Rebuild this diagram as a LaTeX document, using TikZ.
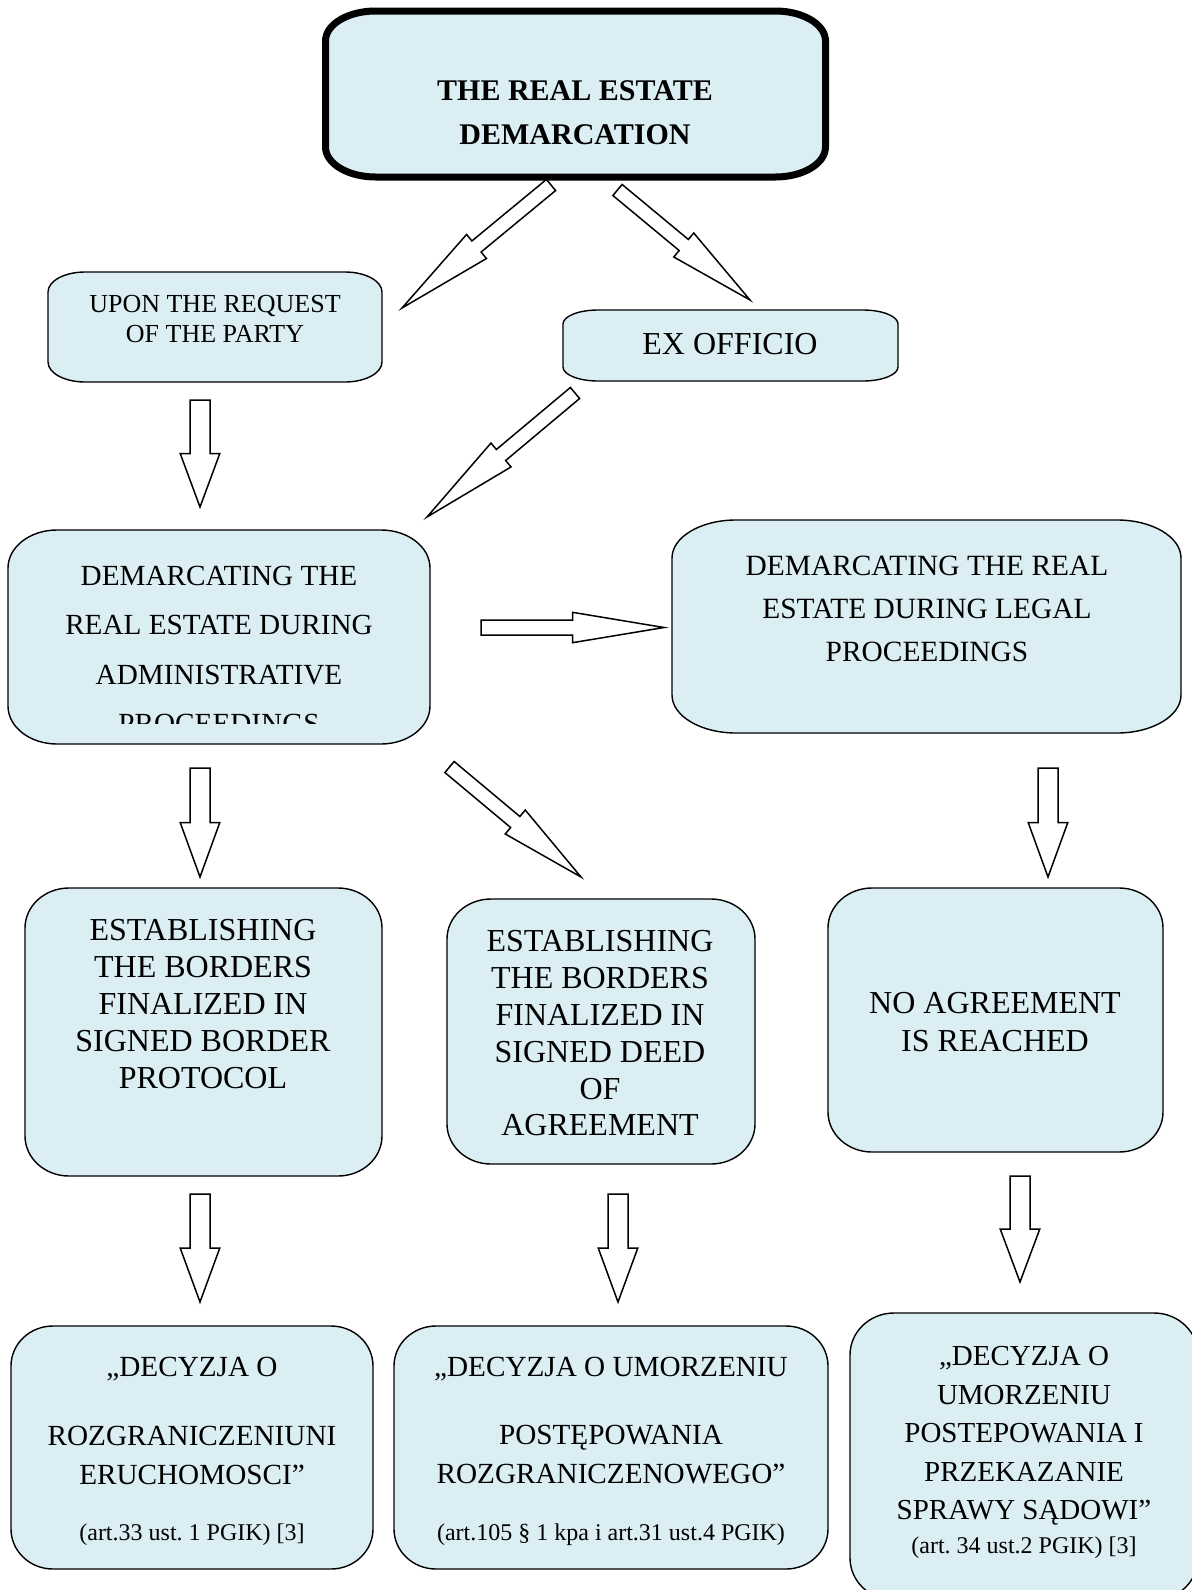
\documentclass[tikz,border=0pt]{standalone}
\usepackage{fontspec}
\setmainfont{Liberation Serif}
\usetikzlibrary{calc}
\definecolor{boxfill}{RGB}{218,238,243}
\frenchspacing
\newcommand\blockarr[4]{%
  \path ($(#1)!0.5!(#2)$) coordinate (bm);
  \draw[barrow] ($(#1)!#3!90:(#2)$) -- ($(bm)!#3!90:(#2)$) -- ($(bm)!#4!90:(#2)$) -- (#2)
    -- ($(bm)!#4!-90:(#2)$) -- ($(bm)!#3!-90:(#2)$) -- ($(#1)!#3!-90:(#2)$) -- cycle;
}
\newcommand\ebox[4][]{%
  \draw[boxline,#1] ($(#2.north west)+(0,-#4)$) arc[start angle=180,end angle=90,x radius=#3,y radius=#4]
    -- ($(#2.north east)+(-#3,0)$) arc[start angle=90,end angle=0,x radius=#3,y radius=#4]
    -- ($(#2.south east)+(0,#4)$) arc[start angle=0,end angle=-90,x radius=#3,y radius=#4]
    -- ($(#2.south west)+(#3,0)$) arc[start angle=270,end angle=180,x radius=#3,y radius=#4] -- cycle;
}
\tikzset{
  box/.style={inner sep=0pt, outer sep=0pt, rectangle},
  boxline/.style={draw=black, line width=0.7pt, fill=boxfill},
  txt/.style={align=center, inner sep=0pt, outer sep=0pt},
  barrow/.style={draw=black, fill=white, line width=0.75pt, line join=miter},
}
\begin{document}
\begin{tikzpicture}[x=0.5pt,y=-0.5pt]
\useasboundingbox (0,0) rectangle (1192,1590);
\fill[white] (0,0) rectangle (1192,1590);
\clip (0,0) rectangle (1192,1590);

% boxes
\node[box, minimum width=250pt, minimum height=83pt] (top) at (575.5,94) {};
\node[box, minimum width=167pt, minimum height=55pt] (upon) at (215,327) {};
\node[box, minimum width=167.5pt, minimum height=35.5pt] (exof) at (730.5,345.5) {};
\node[box, minimum width=211pt, minimum height=107pt] (admin) at (219,637) {};
\node[box, minimum width=254.5pt, minimum height=106.5pt] (legal) at (926.5,626.5) {};
\node[box, minimum width=178.5pt, minimum height=144pt] (prot) at (203.5,1032) {};
\node[box, minimum width=154pt, minimum height=132.5pt] (deed) at (601,1031.5) {};
\node[box, minimum width=167.5pt, minimum height=132pt] (noag) at (995.5,1020) {};
\node[box, minimum width=181pt, minimum height=121.5pt] (dec1) at (192,1447.5) {};
\node[box, minimum width=217pt, minimum height=121.5pt] (dec2) at (611,1447.5) {};
\node[box, minimum width=174pt, minimum height=143.5pt] (dec3) at (1024,1456.5) {};

\ebox[line width=3.5pt]{top}{25pt}{15pt}
\ebox{upon}{18.5pt}{10pt}
\ebox{exof}{17.5pt}{7pt}
\ebox{admin}{24.5pt}{19pt}
\ebox{legal}{32pt}{19pt}
\ebox{prot}{22pt}{20pt}
\ebox{deed}{22pt}{20pt}
\ebox{noag}{22pt}{20pt}
\ebox{dec1}{21pt}{20pt}
\ebox{dec2}{21pt}{20pt}
\ebox{dec3}{22pt}{21pt}

% texts
\node[txt, font=\fontsize{15pt}{22pt}\selectfont\bfseries] (ttop) at (575,113) {THE REAL ESTATE\\DEMARCATION};
\node[txt, font=\fontsize{13pt}{15.2pt}\selectfont] (tupon) at (215,319) {UPON THE REQUEST\\OF THE PARTY};
\node[txt, font=\fontsize{16pt}{19pt}\selectfont] (texof) at (730,344) {EX OFFICIO};
\begin{scope}
\clip (8,530) rectangle (430,723);
\node[txt, font=\fontsize{14.6pt}{24.8pt}\selectfont] (tadmin) at (219,650) {DEMARCATING THE\\REAL ESTATE DURING\\ADMINISTRATIVE\\PROCEEDINGS};
\end{scope}
\node[txt, font=\fontsize{14.7pt}{21.5pt}\selectfont] (tlegal) at (927,609) {DEMARCATING THE REAL\\ESTATE DURING LEGAL\\PROCEEDINGS};
\node[txt, font=\fontsize{16pt}{18.5pt}\selectfont] (tprot) at (203,1004.5) {ESTABLISHING\\THE BORDERS\\FINALIZED IN\\SIGNED BORDER\\PROTOCOL};
\node[txt, font=\fontsize{16pt}{18.4pt}\selectfont] (tdeed) at (600,1033.5) {ESTABLISHING\\THE BORDERS\\FINALIZED IN\\SIGNED DEED\\OF\\AGREEMENT};
\node[txt, font=\fontsize{16pt}{19pt}\selectfont] (tnoag) at (995,1022) {NO AGREEMENT\\IS REACHED};
\node[txt, font=\fontsize{14.6pt}{19.5pt}\selectfont] (tdec1a) at (192,1369) {„DECYZJA O};
\node[txt, font=\fontsize{14.6pt}{19.5pt}\selectfont] (tdec1b) at (192,1455) {ROZGRANICZENIUNI\\ERUCHOMOSCI”};
\node[txt, font=\fontsize{12pt}{14pt}\selectfont] (tdec1c) at (192,1535) {(art.33 ust. 1 PGIK) [3]};
\node[txt, font=\fontsize{14.6pt}{19.5pt}\selectfont] (tdec2a) at (611,1369) {„DECYZJA O UMORZENIU};
\node[txt, font=\fontsize{14.6pt}{19.5pt}\selectfont] (tdec2b) at (611,1455) {POSTĘPOWANIA\\ROZGRANICZENOWEGO”};
\node[txt, font=\fontsize{12pt}{14pt}\selectfont] (tdec2c) at (611,1535) {(art.105 § 1 kpa i art.31 ust.4 PGIK)};
\node[txt, font=\fontsize{14.5pt}{19.3pt}\selectfont] (tdec3) at (1024,1436) {„DECYZJA O\\UMORZENIU\\POSTEPOWANIA I\\PRZEKAZANIE\\SPRAWY SĄDOWI”};
\node[txt, font=\fontsize{12pt}{14pt}\selectfont] (tdec3c) at (1024,1548) {(art. 34 ust.2 PGIK) [3]};

% arrow end points
\coordinate (aAt) at (551,185);   \coordinate (aAh) at (402,308);
\coordinate (aBt) at (617.5,190); \coordinate (aBh) at (750,300);
\coordinate (aCt) at (575,393);   \coordinate (aCh) at (427,517);
\coordinate (aDt) at (449.5,767); \coordinate (aDh) at (581,877);
\coordinate (aHt) at (481,627.5); \coordinate (aHh) at (664,627.5);
\coordinate (v1t) at (200,400);   \coordinate (v1h) at (200,507);
\coordinate (v2t) at (200,768);   \coordinate (v2h) at (200,877);
\coordinate (v3t) at (1048,768);  \coordinate (v3h) at (1048,877);
\coordinate (v4t) at (200,1194);  \coordinate (v4h) at (200,1302);
\coordinate (v5t) at (618,1194);  \coordinate (v5h) at (618,1302);
\coordinate (v6t) at (1020,1176); \coordinate (v6h) at (1020,1282);

% block arrows
\blockarr{aAt}{aAh}{3.6pt}{7.8pt}
\blockarr{aBt}{aBh}{3.6pt}{7.8pt}
\blockarr{aCt}{aCh}{3.6pt}{7.8pt}
\blockarr{aDt}{aDh}{3.6pt}{7.8pt}
\blockarr{aHt}{aHh}{3.75pt}{7.6pt}
\blockarr{v1t}{v1h}{5pt}{9.9pt}
\blockarr{v2t}{v2h}{5pt}{9.9pt}
\blockarr{v3t}{v3h}{5pt}{9.9pt}
\blockarr{v4t}{v4h}{5pt}{9.9pt}
\blockarr{v5t}{v5h}{5pt}{9.9pt}
\blockarr{v6t}{v6h}{5pt}{9.9pt}
\end{tikzpicture}
\end{document}
